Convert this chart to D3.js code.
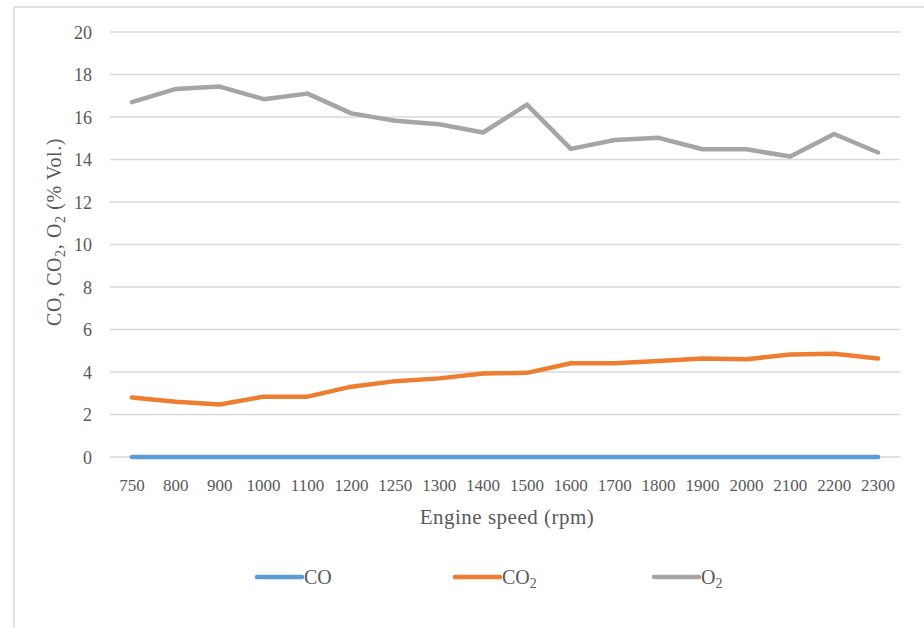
<!DOCTYPE html>
<html lang="en">

<head>
    <meta charset="utf-8">
    <title>CO, CO2, O2 vs engine speed</title>
    <script src="https://cdn.jsdelivr.net/npm/d3@7"></script>
    <style>
        body { margin: 0; background: #fff; }
        text { font-family: "Liberation Serif", "DejaVu Serif", serif; fill: #595959; }
    </style>
</head>

<body>
    <script>
        // engine speed (rpm)
        var speeds = ['750', '800', '900', '1000', '1100', '1200', '1250', '1300', '1400',
            '1500', '1600', '1700', '1800', '1900', '2000', '2100', '2200', '2300'];
        // % Vol.
        var coValues = [0, 0, 0, 0, 0, 0, 0, 0, 0, 0, 0, 0, 0, 0, 0, 0, 0, 0];
        var co2Values = [2.8, 2.6, 2.47, 2.84, 2.84, 3.31, 3.57, 3.7, 3.93, 3.96, 4.41, 4.41, 4.52, 4.64, 4.6, 4.82, 4.86, 4.64];
        var o2Values = [16.7, 17.32, 17.43, 16.84, 17.1, 16.17, 15.82, 15.66, 15.27, 16.58, 14.5, 14.92, 15.02, 14.48, 14.48, 14.14, 15.2, 14.33];
        var yTicks = [0, 2, 4, 6, 8, 10, 12, 14, 16, 18, 20];

        var series = [
            { name: 'CO', sub: '', values: coValues, color: '#5b9bd5' },
            { name: 'CO', sub: '2', values: co2Values, color: '#ed7d31' },
            { name: 'O', sub: '2', values: o2Values, color: '#a5a5a5' }
        ];

        var svgWidth = 924, svgHeight = 628;
        var svg = d3.select('body')
            .append('svg')
            .attr('width', svgWidth)
            .attr('height', svgHeight);

        // chart frame (top + left edges only, like the cropped source)
        svg.append('path')
            .attr('d', 'M14,640 L14,7 L930,7')
            .attr('fill', 'none')
            .attr('stroke', '#d9d9d9')
            .attr('stroke-width', 1.5);

        var x = d3.scaleBand().domain(speeds).range([110, 900]).padding(0);
        var y = d3.scaleLinear().domain([0, 20]).range([457, 32]);

        // gridlines
        svg.append('g')
            .selectAll('line')
            .data(yTicks)
            .enter().append('line')
            .attr('x1', 110).attr('x2', 900)
            .attr('y1', d => y(d)).attr('y2', d => y(d))
            .attr('stroke', '#d9d9d9')
            .attr('stroke-width', 1.5);

        // y tick labels
        svg.append('g')
            .selectAll('text')
            .data(yTicks)
            .enter().append('text')
            .attr('x', 92)
            .attr('y', d => y(d) + 6.5)
            .attr('text-anchor', 'end')
            .style('font-size', '18px')
            .text(d => d);

        // x tick labels
        svg.append('g')
            .selectAll('text')
            .data(speeds)
            .enter().append('text')
            .attr('x', d => x(d) + x.bandwidth() / 2)
            .attr('y', 491)
            .attr('text-anchor', 'middle')
            .style('font-size', '17px')
            .text(d => d);

        // lines
        var line = d3.line()
            .x((d, i) => x(speeds[i]) + x.bandwidth() / 2)
            .y(d => y(d));

        svg.append('g')
            .selectAll('path')
            .data(series)
            .enter().append('path')
            .attr('d', d => line(d.values))
            .attr('fill', 'none')
            .attr('stroke', d => d.color)
            .attr('stroke-width', 4.5)
            .attr('stroke-linejoin', 'round')
            .attr('stroke-linecap', 'round');

        // axis titles
        var yTitle = svg.append('text')
            .attr('transform', 'translate(61,232) rotate(-90)')
            .attr('text-anchor', 'middle')
            .style('font-size', '20px')
            .style('letter-spacing', '0.6px');
        yTitle.append('tspan').text('CO, CO');
        yTitle.append('tspan').attr('dy', 4).style('font-size', '14px').text('2');
        yTitle.append('tspan').attr('dy', -4).text(', O');
        yTitle.append('tspan').attr('dy', 4).style('font-size', '14px').text('2');
        yTitle.append('tspan').attr('dy', -4).text(' (% Vol.)');

        svg.append('text')
            .attr('x', 507)
            .attr('y', 524)
            .attr('text-anchor', 'middle')
            .style('font-size', '21px')
            .style('letter-spacing', '0.5px')
            .text('Engine speed (rpm)');

        // legend
        var legendX = [257, 455, 654];
        var legend = svg.append('g')
            .selectAll('g')
            .data(series)
            .enter().append('g')
            .attr('transform', (d, i) => `translate(${legendX[i]}, 577)`);
        legend.append('line')
            .attr('x1', 0).attr('x2', 45)
            .attr('stroke', d => d.color)
            .attr('stroke-width', 4.5)
            .attr('stroke-linecap', 'round');
        var lt = legend.append('text')
            .attr('x', 47)
            .attr('y', 7)
            .style('font-size', '20px');
        lt.append('tspan').text(d => d.name);
        lt.append('tspan').attr('dy', 4).style('font-size', '14px').text(d => d.sub);
    </script>
</body>

</html>
